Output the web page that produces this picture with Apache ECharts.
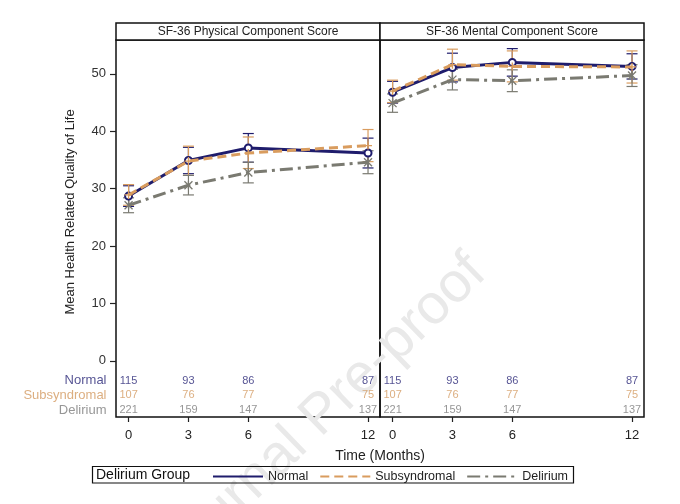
<!DOCTYPE html>
<html>
<head>
<meta charset="UTF-8">
<title>SF-36 by Delirium Group</title>
<script src="https://cdn.jsdelivr.net/npm/echarts@6/dist/echarts.min.js"></script>
<style>
    html, body { margin: 0; background: #fff; }
    #chart { width: 680px; height: 504px; }
</style>
</head>
<body>
<div id="chart"></div>
<script>
var months = [0, 3, 6, 12];
var groups = ['Normal', 'Subsyndromal', 'Delirium'];
var panels = ['SF-36 Physical Component Score', 'SF-36 Mental Component Score'];
var yTicks = [0, 10, 20, 30, 40, 50];

// physical component: mean, lower and upper limit
var normalPhys   = [28.7, 34.9, 37.1, 36.2];
var normalPhysLo = [26.9, 32.6, 34.6, 33.6];
var normalPhysHi = [30.5, 37.2, 39.6, 38.8];
var subPhys      = [28.9, 34.8, 36.2, 37.5];
var subPhysLo    = [27.1, 32.3, 33.5, 34.7];
var subPhysHi    = [30.7, 37.4, 39.0, 40.3];
var delPhys      = [27.1, 30.6, 32.8, 34.6];
var delPhysLo    = [25.8, 28.9, 31.0, 32.6];
var delPhysHi    = [28.4, 32.3, 34.6, 36.6];

// mental component
var normalMent   = [46.8, 51.1, 52.0, 51.3];
var normalMentLo = [44.9, 48.6, 49.6, 49.1];
var normalMentHi = [48.7, 53.6, 54.4, 53.5];
var subMent      = [47.0, 51.6, 51.3, 51.2];
var subMentLo    = [45.0, 48.9, 48.6, 48.4];
var subMentHi    = [48.9, 54.3, 54.0, 54.0];
var delMent      = [44.9, 49.0, 48.8, 49.7];
var delMentLo    = [43.3, 47.2, 46.9, 47.8];
var delMentHi    = [46.5, 50.8, 50.7, 51.6];

// number at risk (same in both panels)
var atRiskNormal = [115, 93, 86, 87];
var atRiskSub    = [107, 76, 77, 75];
var atRiskDel    = [221, 159, 147, 137];

var font = 'Liberation Sans, Arial, sans-serif';
var colors = ['#1f1c6c', '#d99c5e', '#7a7a71'];
var tableColors = ['#2a2878', '#d39a60', '#7c7c7c'];
var dashes = ['solid', [9, 5], [13, 5, 3, 5]];
var symbols = [
    'emptyCircle',
    'path://M4,0L4,8M0,4L8,4',
    'path://M0,0L8,8M0,8L8,0M4,0L4,8'
];
var symbolSizes = [7, 8, 8];
var means = [[normalPhys, subPhys, delPhys], [normalMent, subMent, delMent]];
var lows = [[normalPhysLo, subPhysLo, delPhysLo], [normalMentLo, subMentLo, delMentLo]];
var highs = [[normalPhysHi, subPhysHi, delPhysHi], [normalMentHi, subMentHi, delMentHi]];
var counts = [atRiskNormal, atRiskSub, atRiskDel];
var rowY = [-3.5, -6.0, -8.6];   // rows of the at-risk table, in axis units
var xMin = -0.63, xMax = 12.6, yMin = -9.8, yMax = 55.9;

function errorBar(color) {
    return function (params, api) {
        var lo = api.coord([api.value(0), api.value(1)]);
        var hi = api.coord([api.value(0), api.value(2)]);
        var w = 5.5;
        var st = { stroke: color, lineWidth: 1.2 };
        return {
            type: 'group',
            children: [
                { type: 'line', shape: { x1: lo[0], y1: lo[1], x2: hi[0], y2: hi[1] }, style: st },
                { type: 'line', shape: { x1: lo[0] - w, y1: lo[1], x2: lo[0] + w, y2: lo[1] }, style: st },
                { type: 'line', shape: { x1: hi[0] - w, y1: hi[1], x2: hi[0] + w, y2: hi[1] }, style: st }
            ]
        };
    };
}

var series = [];
for (var p = 0; p < 2; p++) {
    for (var g = 0; g < 3; g++) {
        var bars = [], pts = [];
        for (var i = 0; i < months.length; i++) {
            bars.push([months[i], lows[p][g][i], highs[p][g][i]]);
            pts.push([months[i], means[p][g][i]]);
        }
        series.push({
            type: 'custom',
            name: 'ci' + p + g,
            xAxisIndex: p, yAxisIndex: p,
            renderItem: errorBar(colors[g]),
            encode: { x: 0, y: [1, 2] },
            data: bars,
            z: 2
        });
        series.push({
            type: 'line',
            name: groups[g],
            xAxisIndex: p, yAxisIndex: p,
            data: pts,
            symbol: symbols[g],
            symbolSize: symbolSizes[g],
            itemStyle: { color: colors[g], borderColor: colors[g], borderWidth: 1.3 },
            lineStyle: { color: colors[g], width: 3, type: dashes[g] },
            z: 3 + g
        });
        var row = [];
        for (var j = 0; j < months.length; j++) {
            row.push([months[j], rowY[g], counts[g][j]]);
        }
        series.push({
            type: 'scatter',
            name: 'n' + p + g,
            xAxisIndex: p, yAxisIndex: p,
            data: row,
            symbolSize: 1,
            itemStyle: { color: 'transparent' },
            label: {
                show: true, position: 'inside',
                formatter: function (d) { return d.value[2]; },
                color: tableColors[g], fontSize: 11, fontFamily: font
            }
        });
    }
}
// row titles of the at-risk table, left of the first panel
for (var k = 0; k < 3; k++) {
    series.push({
        type: 'scatter',
        name: 'row' + k,
        data: [[xMin, rowY[k], groups[k]]],
        symbolSize: 1,
        itemStyle: { color: 'transparent' },
        label: {
            show: true, position: 'left', distance: 9,
            formatter: function (d) { return d.value[2]; },
            color: tableColors[k], fontSize: 13, fontFamily: font
        }
    });
}

function xAxis(idx) {
    return {
        type: 'value', gridIndex: idx, min: xMin, max: xMax,
        axisLine: { show: false, onZero: false },
        splitLine: { show: false },
        axisTick: { show: true, customValues: months, length: 5, lineStyle: { color: '#222', width: 1.2 } },
        axisLabel: { customValues: months, color: '#222', fontSize: 13, fontFamily: font, margin: 12 }
    };
}
function yAxis(idx) {
    return {
        type: 'value', gridIndex: idx, min: yMin, max: yMax,
        show: idx === 0,
        axisLine: { show: false, onZero: false },
        splitLine: { show: false },
        axisTick: { show: true, customValues: yTicks, length: 6, lineStyle: { color: '#222', width: 1.2 } },
        axisLabel: { customValues: yTicks, color: '#333', fontSize: 13, fontFamily: font, margin: 10 }
    };
}

var chart = echarts.init(document.getElementById('chart'));
chart.setOption({
    animation: false,
    backgroundColor: '#fff',
    grid: [
        { left: 116, top: 40, width: 264, height: 377, show: true, borderColor: '#111', borderWidth: 1.5 },
        { left: 380, top: 40, width: 264, height: 377, show: true, borderColor: '#111', borderWidth: 1.5 }
    ],
    xAxis: [xAxis(0), xAxis(1)],
    yAxis: [yAxis(0), yAxis(1)],
    legend: {
        data: groups,
        left: 212, top: 470, padding: 0,
        itemWidth: 50, itemHeight: 10, itemGap: 11,
        itemStyle: { opacity: 0 },
        textStyle: { color: '#222', fontSize: 12.5, fontFamily: font }
    },
    graphic: [
        {
            type: 'text', x: 322, y: 415, rotation: 0.77, z: 0,
            style: { text: 'Journal Pre-proof', fill: '#e9e9e9', fontSize: 56, fontFamily: font, align: 'center', verticalAlign: 'middle' }
        },
        {
            type: 'rect', shape: { x: 116, y: 23, width: 264, height: 17 },
            style: { fill: '#fff', stroke: '#111', lineWidth: 1.5 }
        },
        {
            type: 'rect', shape: { x: 380, y: 23, width: 264, height: 17 },
            style: { fill: '#fff', stroke: '#111', lineWidth: 1.5 }
        },
        {
            type: 'text', x: 248, y: 32,
            style: { text: panels[0], fill: '#222', fontSize: 12, fontFamily: font, align: 'center', verticalAlign: 'middle' }
        },
        {
            type: 'text', x: 512, y: 32,
            style: { text: panels[1], fill: '#222', fontSize: 12, fontFamily: font, align: 'center', verticalAlign: 'middle' }
        },
        {
            type: 'text', x: 70, y: 212, rotation: Math.PI / 2,
            style: { text: 'Mean Health Related Quality of Life', fill: '#222', fontSize: 13, fontFamily: font, align: 'center', verticalAlign: 'middle' }
        },
        {
            type: 'text', x: 380, y: 456,
            style: { text: 'Time (Months)', fill: '#222', fontSize: 14, fontFamily: font, align: 'center', verticalAlign: 'middle' }
        },
        {
            type: 'rect', shape: { x: 92.5, y: 466.5, width: 481, height: 16.5 },
            style: { fill: 'none', stroke: '#111', lineWidth: 1.2 }
        },
        {
            type: 'text', x: 96, y: 475,
            style: { text: 'Delirium Group', fill: '#111', fontSize: 14, fontFamily: font, align: 'left', verticalAlign: 'middle' }
        }
    ],
    series: series
});
</script>
</body>
</html>
